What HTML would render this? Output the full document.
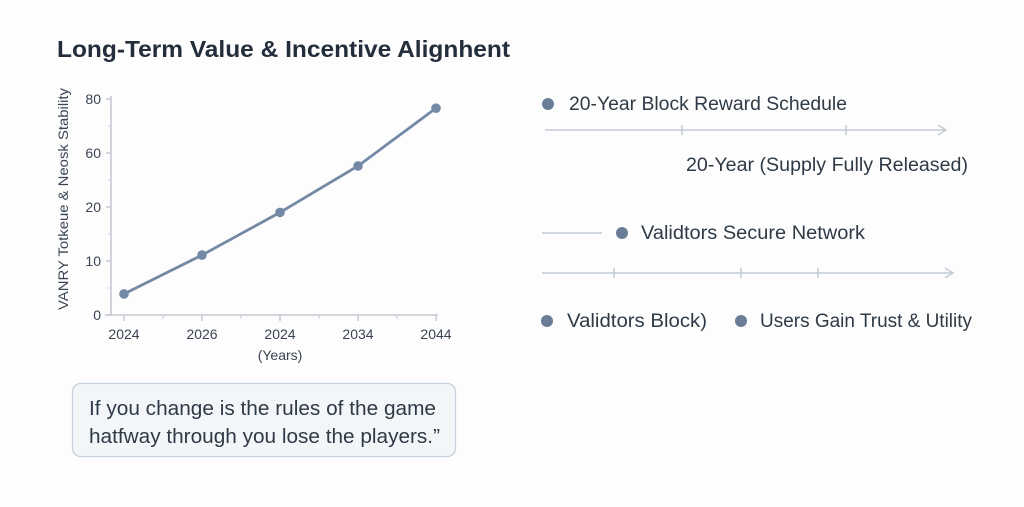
<!DOCTYPE html>
<html><head><meta charset="utf-8">
<style>
html,body{margin:0;padding:0;background:#fdfdfd;}
body{width:1024px;height:502px;overflow:hidden;font-family:"Liberation Sans",sans-serif;}
svg text{font-family:"Liberation Sans",sans-serif;}
</style></head>
<body>
<svg width="1024" height="502" viewBox="0 0 1024 502">
<text x="57" y="57" font-size="23" font-weight="bold" fill="#232d3b" textLength="453" lengthAdjust="spacingAndGlyphs">Long-Term Value &amp; Incentive Alignhent</text>
<g id="chart"></g>
<g>
<rect x="72.5" y="383.5" width="383" height="73" rx="8" fill="#f3f6f9" stroke="#c5d2de" stroke-width="1.2"/>
<text x="89" y="415" font-size="20" fill="#2f3a47" textLength="347" lengthAdjust="spacingAndGlyphs">If you change is the rules of the game</text>
<text x="89" y="443" font-size="20" fill="#2f3a47" textLength="351" lengthAdjust="spacingAndGlyphs">hatfway through you lose the players.”</text>
</g>
<g fill="#2f3a47" font-size="19">
<circle cx="548" cy="104" r="6" fill="#6b7d96"/>
<text x="569" y="110" textLength="278" lengthAdjust="spacingAndGlyphs">20-Year Block Reward Schedule</text>
<g stroke="#c3ccd6" stroke-width="1.5" fill="none">
<line x1="545" y1="130" x2="946" y2="130"/><polyline points="938,125 946,130 938,135"/>
<line x1="682" y1="125" x2="682" y2="135"/><line x1="846" y1="125" x2="846" y2="135"/>
</g>
<text x="686" y="171" textLength="282" lengthAdjust="spacingAndGlyphs">20-Year (Supply Fully Released)</text>
<line x1="542" y1="233" x2="602" y2="233" stroke="#c3ccd6" stroke-width="1.5"/>
<circle cx="622" cy="233" r="6" fill="#6b7d96"/>
<text x="641" y="239" textLength="224" lengthAdjust="spacingAndGlyphs">Validtors Secure Network</text>
<g stroke="#c3ccd6" stroke-width="1.5" fill="none">
<line x1="542" y1="273" x2="953" y2="273"/><polyline points="945,268 953,273 945,278"/>
<line x1="614" y1="268" x2="614" y2="278"/><line x1="741" y1="268" x2="741" y2="278"/><line x1="818" y1="268" x2="818" y2="278"/>
</g>
<circle cx="547" cy="321" r="6" fill="#6b7d96"/>
<text x="567" y="327" textLength="140" lengthAdjust="spacingAndGlyphs">Validtors Block)</text>
<circle cx="741" cy="321" r="6" fill="#6b7d96"/>
<text x="760" y="327" textLength="212" lengthAdjust="spacingAndGlyphs">Users Gain Trust &amp; Utility</text>
</g>
</svg>
<script>
const categories = ["2024","2026","2024","2034","2044"];
const values = [3.9, 11.1, 19, 50.4, 76.6];
const yTickValues = [0, 10, 20, 60, 80];
const yTickLabels = ["0","10","20","60","80"];

const NS="http://www.w3.org/2000/svg";
const g=document.getElementById('chart');
const x0=124, dx=78, axisX=111, baseY=315, step=54;
function xPos(i){return x0+i*dx;}
function yPos(v){
  for(let k=0;k<yTickValues.length-1;k++){
    const a=yTickValues[k],b=yTickValues[k+1];
    if(v<=b||k===yTickValues.length-2){return baseY-(k+(v-a)/(b-a))*step;}
  }
}
function mk(tag,attrs){const e=document.createElementNS(NS,tag);for(const k in attrs)e.setAttribute(k,attrs[k]);g.appendChild(e);return e;}
let e;
e=mk('line',{x1:axisX,y1:96,x2:axisX,y2:baseY,stroke:'#b8c0ca','stroke-width':1.3});


e=mk('line',{x1:axisX-6,y1:baseY,x2:xPos(categories.length-1)+2,y2:baseY,stroke:'#b8c0ca','stroke-width':1.3});


yTickValues.forEach((v,k)=>{
  const y=yPos(v);
  e=mk('line',{x1:axisX-5,y1:y,x2:axisX,y2:y,stroke:'#b8c0ca','stroke-width':1.2});
  
  
  if(k<yTickValues.length-1){
    const ym=y-step/2;
    e=mk('line',{x1:axisX-3,y1:ym,x2:axisX,y2:ym,stroke:'#c8cfd7','stroke-width':1});
    
    
  }
  e=mk('text',{x:101,y:y+5,'text-anchor':'end','font-size':14,fill:'#3a4452'});
  e.textContent=yTickLabels[k];
  
  
});
categories.forEach((c,i)=>{
  const x=xPos(i);
  e=mk('line',{x1:x,y1:baseY,x2:x,y2:baseY+6,stroke:'#b8c0ca','stroke-width':1.2});
  
  
  if(i<categories.length-1){
    e=mk('line',{x1:x+dx/2,y1:baseY,x2:x+dx/2,y2:baseY+4,stroke:'#c8cfd7','stroke-width':1});
    
    
  }
  e=mk('text',{x:x,y:339,'text-anchor':'middle','font-size':14,fill:'#3a4452'});
  e.textContent=c;
  
  
});
e=mk('text',{x:xPos(2),y:360,'text-anchor':'middle','font-size':14,fill:'#3a4452'});
e.textContent='(Years)';


e=mk('text',{x:0,y:0,'text-anchor':'middle','font-size':14,fill:'#3a4452',textLength:222,lengthAdjust:'spacingAndGlyphs',transform:'translate(68,199) rotate(-90)'});
e.textContent='VANRY Totkeue & Neosk Stability';


e=mk('polyline',{points:values.map((v,i)=>xPos(i)+','+yPos(v)).join(' '),fill:'none',stroke:'#7389a6','stroke-width':2.8,'stroke-linejoin':'round'});


values.forEach((v,i)=>{
  e=mk('circle',{cx:xPos(i),cy:yPos(v),r:4.8,fill:'#7389a6'});
  
  
});
</script>
</body></html>
